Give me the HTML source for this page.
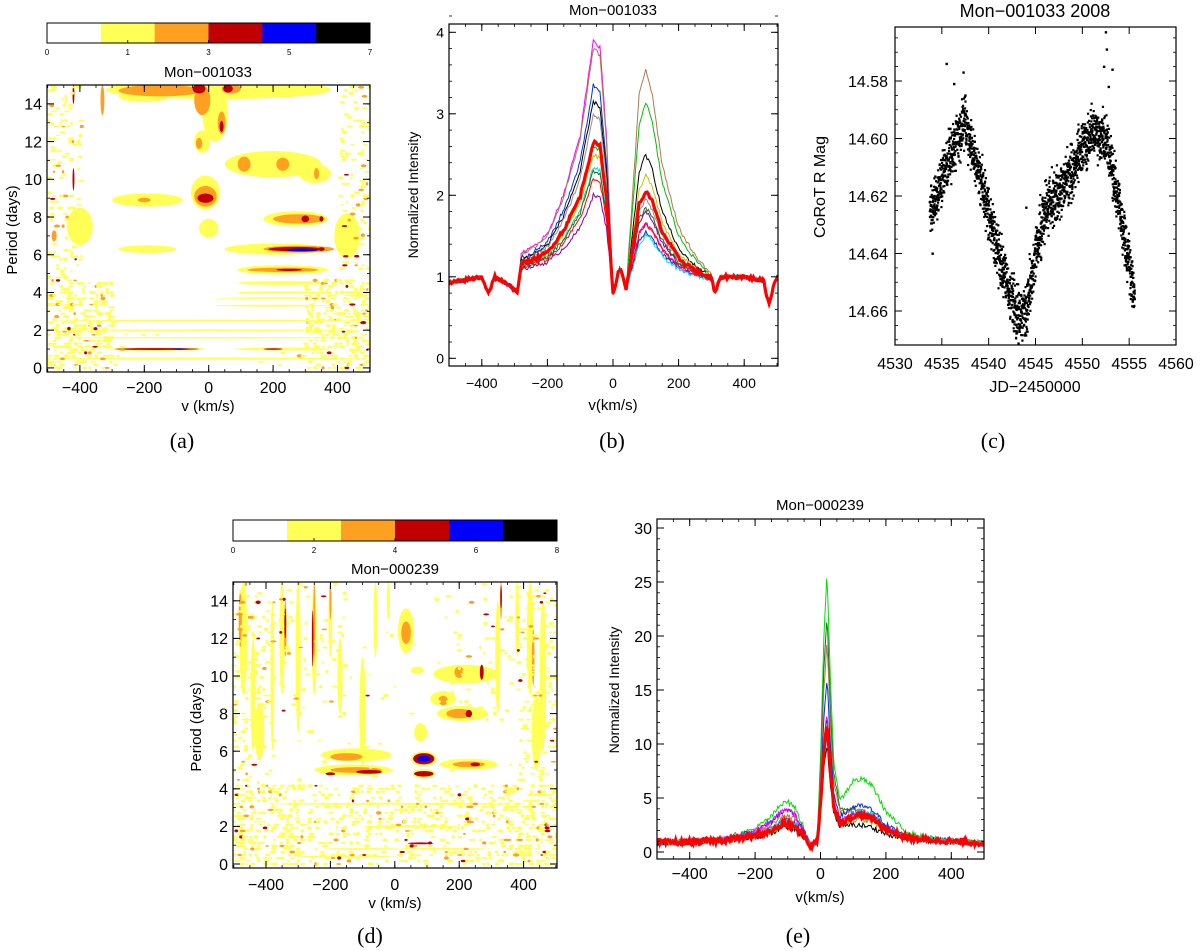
<!DOCTYPE html>
<html><head><meta charset="utf-8"><style>
html,body{margin:0;padding:0;background:#fff}
svg{display:block}
text{font-family:"Liberation Sans","DejaVu Sans",sans-serif;fill:#000}
.cap{font-family:"Liberation Serif",serif;font-size:22px}
</style></head><body>
<svg id="fig" width="1200" height="951" viewBox="0 0 1200 951" xmlns="http://www.w3.org/2000/svg">
<defs>
<clipPath id="clipA"><rect x="47" y="85" width="323" height="287"/></clipPath>
<clipPath id="clipB"><rect x="449" y="24" width="329" height="342"/></clipPath>
<clipPath id="clipC"><rect x="895" y="27" width="281" height="318"/></clipPath>
<clipPath id="clipD"><rect x="233" y="582" width="324" height="286"/></clipPath>
<clipPath id="clipE"><rect x="657" y="519" width="327" height="340"/></clipPath>
</defs>
<text class="cap" x="182" y="448" text-anchor="middle">(a)</text>
<text class="cap" x="612" y="448" text-anchor="middle">(b)</text>
<text class="cap" x="993" y="448" text-anchor="middle">(c)</text>
<text class="cap" x="370" y="943" text-anchor="middle">(d)</text>
<text class="cap" x="798" y="943" text-anchor="middle">(e)</text>
</svg>
<script>
const NS='http://www.w3.org/2000/svg';
const svg=document.getElementById('fig');
function mk(tag,attrs,parent){const e=document.createElementNS(NS,tag);for(const k in attrs)e.setAttribute(k,attrs[k]);(parent||svg).appendChild(e);return e;}
function txt(s,attrs,parent){const e=mk('text',attrs,parent);e.textContent=s;return e;}

// ---------- DATA ----------
const levelColors=['#ffffff','#ffff55','#ffa020','#c00000','#0000ff','#000000'];
const cbarATicks=[0,1,3,5,7];
const cbarDTicks=[0,2,4,6,8];
// heatmap features: [v, period, halfWidth km/s, halfHeight days, level]
const heatA=[
[30,14.75,350,0.5,1],[-200,14.4,80,0.3,1],[20,13.5,40,1.5,1],[-20,12.0,25,0.6,1],[200,10.8,150,0.7,1],[330,10.3,50,0.5,1],
[-190,8.9,110,0.35,1],[-10,9.3,45,0.9,1],[0,7.4,30,0.5,1],[270,7.9,100,0.4,1],[-190,6.3,90,0.2,1],[210,6.3,160,0.3,1],
[230,5.2,140,0.25,1],[230,4.5,140,0.1,1],[230,4.0,140,0.06,1],[-160,1.0,150,0.1,1],[230,1.0,150,0.08,1],
[0,2.5,480,0.05,1],[0,2.0,480,0.04,1],[0,1.6,480,0.04,1],[0,0.5,480,0.05,1],[200,3.3,180,0.05,1],[200,3.7,180,0.04,1],[-400,7.5,40,1.0,1],[430,7.0,40,1.2,1],
[-150,14.7,130,0.3,2],[-20,14.2,25,0.8,2],[70,14.8,30,0.25,2],[40,13.0,12,0.6,2],[-30,11.9,10,0.3,2],[110,10.8,20,0.4,2],
[230,10.8,20,0.35,2],[335,10.3,8,0.3,2],[-200,8.9,20,0.12,2],[-10,9.1,35,0.55,2],[280,7.9,80,0.25,2],[280,6.3,110,0.18,2],
[230,5.2,110,0.12,2],[340,6.3,15,0.12,2],[-480,7.0,8,0.3,2],[-330,14.2,6,0.8,2],
[-30,14.8,20,0.25,3],[60,14.8,15,0.2,3],[40,12.8,6,0.3,3],[-10,9.0,25,0.25,3],[300,7.9,12,0.18,3],[350,7.9,6,0.15,3],
[270,6.3,85,0.12,3],[350,6.3,10,0.1,3],[250,5.2,40,0.06,3],[-160,1.0,130,0.05,3],[200,1.0,30,0.04,3],[-420,10.0,3,0.6,3],[-420,14.5,3,0.5,3],
[290,6.25,50,0.08,4],[-90,1.0,25,0.035,4]];
const heatD=[
[-470,12,12,3,1],[-440,9,8,3,1],[-380,10,6,4,1],[-350,12,8,3,1],[-300,11,8,4,1],[-250,12,8,3,1],[-200,13,6,2,1],[-170,10,8,2,1],
[-100,8,10,3,1],[420,12,10,3,1],[460,10,10,4,1],[380,13,6,2,1],[320,11,8,3,1],[-60,13,6,2,1],[-20,14,5,1,1],[-420,7,15,1.5,1],[440,7,15,2,1],
[-480,13,5,1.5,2],[-340,12.5,4,1.5,2],[-250,13,3,2,2],[-200,14,3,1,2],[430,11,4,1.5,2],[330,14,3,1,2],
[-340,12.8,2.5,0.8,3],[-255,12,2.5,1.5,3],[330,14.2,2.5,0.6,3],
[35,12.4,25,1.2,1],[35,12.3,15,0.6,2],
[-120,5.8,110,0.35,1],[-130,5.0,120,0.3,1],[-150,5.7,50,0.2,2],[-120,5.0,80,0.15,2],[-80,4.9,40,0.1,3],[-200,4.8,15,0.08,3],
[90,5.6,40,0.4,1],[90,5.6,33,0.3,3],[90,5.6,22,0.15,4],[90,4.8,35,0.25,1],[90,4.8,30,0.15,3],
[230,5.3,90,0.3,1],[230,5.3,50,0.15,2],[250,5.3,15,0.1,3],
[210,8.0,80,0.4,1],[200,8.0,40,0.25,2],[230,8,10,0.2,3],[150,8.8,40,0.4,1],[150,8.7,15,0.25,2],
[220,10.1,100,0.5,1],[200,10.2,15,0.3,2],[270,10.2,6,0.4,3],[80,7,20,0.5,1],[70,10.3,20,0.2,1],
[0,3.2,400,0.05,1],[50,2.0,150,0.06,1],[-100,0.8,120,0.05,1],[80,1.1,40,0.05,3],[150,0.8,150,0.05,1],[-150,0.4,150,0.04,1]];

// spectra panel b
const gvB=[-500,-400,-380,-360,-290,-280,-250,-200,-150,-100,-60,-40,-20,0,20,30,40,60,80,100,120,150,200,250,300,310,330,400,460,475,490,500];
const baseB=[.92,1,.8,1,.82,1,1,1,1,1,1,1,1,.8,1.1,1.0,.85,.85,.9,.95,.95,.95,.95,.95,.95,.8,1,1,.95,.65,.9,1];
const blueShapeB=[0,0,0,0,0,.1,.12,.18,.35,.6,1,.97,.6,0,0,0,0,0,0,0,0,0,0,0,0,0,0,0,0,0,0,0];
const redShapeB=[0,0,0,0,0,0,0,0,0,0,0,0,0,0,0,0,0,.45,.9,1,.88,.55,.25,.12,.03,0,0,0,0,0,0,0];
const colorsB=['#ff00ff','#b07a50','#0030e0','#000000','#00c000','#c8c000','#00e0e0','#8000a0','#909090','#207020','#ff0000'];
const blueAmpB=[2.9,2.8,2.35,2.15,1.6,1.5,1.35,1.0,2.0,1.3,1.2];
const redAmpB=[0.7,2.6,0.6,1.55,2.2,1.3,0.55,0.85,1.0,0.9,0.7];
const meanBlueB=1.65, meanRedB=1.1;
// spectra panel e
const gvE=[-500,-440,-430,-420,-300,-200,-150,-110,-80,-50,-30,-10,0,10,20,30,40,60,100,130,160,200,250,300,400,500];
const baseE=[.9,.9,.9,.9,1,1,1,1,1,1,.5,1,1,1,1,1,1,1,1,1,1,1,1,1,1,.8];
const humpE=[0,0,0,0,.05,.3,.6,1,.85,.3,0,0,0,0,0,0,0,0,0,0,0,0,0,0,0,0];
const peakE=[0,0,0,0,0,0,0,0,0,0,0,0,.3,.75,1,.6,.3,.15,.08,.05,.04,.02,0,0,0,0];
const rhumpE=[0,0,0,0,0,0,0,0,0,0,0,0,0,0,0,0,0,0,.8,1,.9,.5,.25,.1,0,0];
const colorsE=['#00e000','#207020','#b07a50','#0030e0','#ff00ff','#8000a0','#00c0e0','#000000','#a0a000','#909090'];
const humpAmpE=[3.8,1.5,2.5,3.0,3.0,2.0,2.0,1.3,1.5,1.8];
const peakAmpE=[25,21,18.5,15,12,11.5,10,9,10,11];
const rhumpAmpE=[4.5,1.5,1.8,2.5,2.0,2.0,2.3,1.0,1.5,1.7];
const meanHumpE=1.6, meanPeakE=11, meanRhumpE=1.8;
// light curve trend (JD-2450000, mag)
const lcJD=[4533.7,4535,4536.5,4537.5,4539,4541,4543,4544,4545,4546,4548,4549.5,4551,4552.5,4554,4555.6];
const lcMag=[14.626,14.615,14.600,14.595,14.613,14.640,14.662,14.660,14.640,14.625,14.617,14.607,14.598,14.600,14.625,14.656];
const lcOutJD=[4534,4535.5,4536.3,4537.3,4537.5,4544,4552.3,4552.5,4552.6,4552.8,4553.2];
const lcOutMag=[14.640,14.574,14.581,14.577,14.585,14.624,14.575,14.563,14.569,14.582,14.576];

// ---------- helpers ----------
function interp(xs,ys,x){if(x<=xs[0])return ys[0];for(let i=1;i<xs.length;i++){if(x<=xs[i]){const t=(x-xs[i-1])/(xs[i]-xs[i-1]);return ys[i-1]+t*(ys[i]-ys[i-1]);}}return ys[ys.length-1];}
let seed=12345;function rnd(){seed=(seed*1103515245+12345)%2147483648;return seed/2147483648;}
function frame(x0,y0,x1,y1,name){const r=mk('rect',{x:x0,y:y0,width:x1-x0,height:y1-y0,fill:'none',stroke:'#000','stroke-width':1.2});}
function xticks(sx,vals,minors,y0,y1,fs,ly,name){const g=mk('g',{});
 minors.forEach(v=>{const x=sx(v);mk('line',{x1:x,x2:x,y1:y1,y2:y1-3,stroke:'#000','stroke-width':0.8},g);mk('line',{x1:x,x2:x,y1:y0,y2:y0+3,stroke:'#000','stroke-width':0.8},g);});
 vals.forEach(v=>{const x=sx(v);mk('line',{x1:x,x2:x,y1:y1,y2:y1-7,stroke:'#000','stroke-width':1},g);mk('line',{x1:x,x2:x,y1:y0,y2:y0+7,stroke:'#000','stroke-width':1},g);
 if(ly)txt(String(v).replace('-','\u2212'),{x:x,y:ly,'font-size':fs,'text-anchor':'middle'},g);});}
function yticks(sy,vals,minors,x0,x1,fs,lx,fmt,name){const g=mk('g',{});
 minors.forEach(v=>{const y=sy(v);mk('line',{x1:x0,x2:x0+3,y1:y,y2:y,stroke:'#000','stroke-width':0.8},g);mk('line',{x1:x1,x2:x1-3,y1:y,y2:y,stroke:'#000','stroke-width':0.8},g);});
 vals.forEach(v=>{const y=sy(v);mk('line',{x1:x0,x2:x0+7,y1:y,y2:y,stroke:'#000','stroke-width':1},g);mk('line',{x1:x1,x2:x1-7,y1:y,y2:y,stroke:'#000','stroke-width':1},g);
 txt(fmt?fmt(v):String(v),{x:lx,y:y+fs*0.36,'font-size':fs,'text-anchor':'end'},g);});}
function range(a,b,s){const r=[];for(let v=a;v<=b+1e-9;v+=s)r.push(+v.toFixed(4));return r;}
function colorbar(x0,x1,y0,y1,ticks,name){const g=mk('g',{});
 const w=(x1-x0)/6;for(let i=0;i<6;i++){const r=mk('rect',{x:x0+i*w,y:y0,width:w+0.3,height:y1-y0,fill:levelColors[i]},g);}
 mk('rect',{x:x0,y:y0,width:x1-x0,height:y1-y0,fill:'none',stroke:'#000','stroke-width':1},g);
 ticks.forEach((t,i)=>{const x=x0+(x1-x0)*i/(ticks.length-1);mk('line',{x1:x,x2:x,y1:y1,y2:y1-3,stroke:'#000','stroke-width':0.8},g);txt(String(t),{x:x,y:y1+12,'font-size':8,'text-anchor':'middle'},g);});}
function heatmap(feats,sx,sy,clip,name){const g=mk('g',{'clip-path':'url(#'+clip+')'});
 const ppv=Math.abs(sx(100)-sx(0))/100, ppp=Math.abs(sy(1)-sy(0));
 [1,2,3,4].forEach(L=>feats.filter(f=>f[4]===L).forEach(f=>{const e=mk('ellipse',{cx:sx(f[0]),cy:sy(f[1]),rx:f[2]*ppv,ry:f[3]*ppp,fill:levelColors[L]},g);}));
 return g;}
function speckle(g,sx,sy,prob){for(let v=-500;v<=500;v+=9){for(let p=0;p<=15;p+=0.16){const pr=prob(v,p);if(pr<=0)continue;const r=rnd();if(r<pr){const c=rnd();const col=c<0.9?levelColors[1]:(c<0.97?levelColors[2]:levelColors[3]);mk('ellipse',{cx:sx(v+rnd()*8),cy:sy(p),rx:1.2+rnd()*2,ry:0.8+rnd()*1,fill:col},g);}}}}

// ---------- Panel A ----------
{const sx=v=>208.7+v*0.322, sy=p=>85+(15-p)*18.86;
 colorbar(47,370,23,43,cbarATicks,'colorbar-a');
 const g=heatmap(heatA,sx,sy,'clipA','heatmap-a');
 speckle(g,sx,sy,(v,p)=>{const a=Math.abs(v);if(p<4.8&&a>300)return 0.35;if(a>400)return 0.15;if(p<3&&a>150)return 0.03;return 0;});
 frame(47,85,370,372,'plot-frame-a');
 xticks(sx,[-400,-200,0,200,400],range(-500,500,50),85,372,16,393,'x-axis-a');
 yticks(sy,[0,2,4,6,8,10,12,14],range(0,15,1),47,370,16,42,null,'y-axis-a');
 txt('Mon\u2212001033',{x:208,y:77,'font-size':15,'text-anchor':'middle',});
 txt('v (km/s)',{x:208,y:411,'font-size':15,'text-anchor':'middle',});
 txt('Period (days)',{x:0,y:0,'font-size':15,'text-anchor':'middle',transform:'translate(17,230) rotate(-90)',});}

// ---------- Panel B ----------
{const sx=v=>613+v*0.328, sy=y=>358.3-y*81.5;
 const g=mk('g',{'clip-path':'url(#clipB)'});
 function path(bA,rA,col,w,name){let d='';for(let v=-500;v<=500;v+=4){const y=interp(gvB,baseB,v)+bA*interp(gvB,blueShapeB,v)+rA*interp(gvB,redShapeB,v)+(rnd()-0.5)*0.05;d+=(d?'L':'M')+sx(v).toFixed(1)+','+sy(y).toFixed(1);}
  const p=mk('path',{d:d,fill:'none',stroke:col,'stroke-width':w},g);}
 colorsB.forEach((c,i)=>path(blueAmpB[i],redAmpB[i],c,1,'spectrum-line-b'));
 path(meanBlueB,meanRedB,'#ff0000',3.2,'mean-spectrum-b');
 frame(449,24,778,366,'plot-frame-b');
 xticks(sx,[-400,-200,0,200,400],range(-500,500,50),24,366,14,388,'x-axis-b');
 yticks(sy,[0,1,2,3,4],range(0,4.2,0.2),449,778,14,444,null,'y-axis-b');
 txt('Mon\u2212001033',{x:613,y:15,'font-size':15,'text-anchor':'middle',});
 txt('v(km/s)',{x:613,y:410,'font-size':15,'text-anchor':'middle',});
 txt('Normalized Intensity',{x:0,y:0,'font-size':14,'text-anchor':'middle',transform:'translate(418,195) rotate(-90)',});}

// ---------- Panel C ----------
{const sx=j=>895+(j-4530)*9.367, sy=m=>81+(m-14.58)*2875;
 const g=mk('g',{'clip-path':'url(#clipC)'});
 for(let j=lcJD[0];j<=lcJD[lcJD.length-1];j+=0.0105){const m=interp(lcJD,lcMag,j)+(rnd()+rnd()+rnd()-1.5)*0.009;mk('rect',{x:sx(j)-1,y:sy(m)-1,width:2.2,height:2.2,fill:'#000'},g);}
 lcOutJD.forEach((j,i)=>{const r=mk('rect',{x:sx(j)-1,y:sy(lcOutMag[i])-1,width:2.4,height:2.4,fill:'#000'},g);});
 frame(895,27,1176,345,'plot-frame-c');
 const gx=mk('g',{});
 range(4530,4560,5).forEach(j=>{const x=sx(j);mk('line',{x1:x,x2:x,y1:345,y2:338,stroke:'#000'},gx);mk('line',{x1:x,x2:x,y1:27,y2:34,stroke:'#000'},gx);txt(String(j),{x:x,y:369,'font-size':16,'text-anchor':'middle'},gx);});
 yticks(sy,[14.58,14.60,14.62,14.64,14.66],range(14.565,14.67,0.005),895,1176,16,888,v=>v.toFixed(2),'y-axis-c');
 txt('Mon\u2212001033 2008',{x:1035,y:17,'font-size':18,'text-anchor':'middle',});
 txt('JD\u22122450000',{x:1035,y:392,'font-size':16,'text-anchor':'middle',});
 txt('CoRoT R Mag',{x:0,y:0,'font-size':16,'text-anchor':'middle',transform:'translate(825,187) rotate(-90)',});}

// ---------- Panel D ----------
{const sx=v=>394.8+v*0.322, sy=p=>582+(15-p)*18.8;
 colorbar(233,557,520,541,cbarDTicks,'colorbar-d');
 const g=heatmap(heatD,sx,sy,'clipD','heatmap-d');
 speckle(g,sx,sy,(v,p)=>{const a=Math.abs(v);if(p<4.3)return a>300?0.35:0.2;if(a>380)return 0.15;if(p>8&&a>150)return 0.05;return 0.01;});
 frame(233,582,557,868,'plot-frame-d');
 xticks(sx,[-400,-200,0,200,400],range(-500,500,50),582,868,16,890,'x-axis-d');
 yticks(sy,[0,2,4,6,8,10,12,14],range(0,15,1),233,557,16,228,null,'y-axis-d');
 txt('Mon\u2212000239',{x:395,y:574,'font-size':15,'text-anchor':'middle',});
 txt('v (km/s)',{x:395,y:908,'font-size':15,'text-anchor':'middle',});
 txt('Period (days)',{x:0,y:0,'font-size':15,'text-anchor':'middle',transform:'translate(201,727) rotate(-90)',});}

// ---------- Panel E ----------
{const sx=v=>820.5+v*0.327, sy=y=>852-y*10.8;
 const g=mk('g',{'clip-path':'url(#clipE)'});
 function path(hA,pA,rA,col,w,name){let d='';for(let v=-500;v<=500;v+=3){const y=interp(gvE,baseE,v)+hA*interp(gvE,humpE,v)+pA*interp(gvE,peakE,v)+rA*interp(gvE,rhumpE,v)+(rnd()-0.5)*0.5;d+=(d?'L':'M')+sx(v).toFixed(1)+','+sy(y).toFixed(1);}
  const p=mk('path',{d:d,fill:'none',stroke:col,'stroke-width':w},g);}
 colorsE.forEach((c,i)=>path(humpAmpE[i],peakAmpE[i],rhumpAmpE[i],c,1,'spectrum-line-e'));
 path(meanHumpE,meanPeakE,meanRhumpE,'#ff0000',3.2,'mean-spectrum-e');
 frame(657,519,984,859,'plot-frame-e');
 xticks(sx,[-400,-200,0,200,400],range(-500,500,50),519,859,16,879,'x-axis-e');
 yticks(sy,[0,5,10,15,20,25,30],range(0,30,1),657,984,16,652,null,'y-axis-e');
 txt('Mon\u2212000239',{x:820,y:510,'font-size':15,'text-anchor':'middle',});
 txt('v(km/s)',{x:820,y:902,'font-size':15,'text-anchor':'middle',});
 txt('Normalized Intensity',{x:0,y:0,'font-size':14,'text-anchor':'middle',transform:'translate(619,690) rotate(-90)',});}
</script>
</body></html>
